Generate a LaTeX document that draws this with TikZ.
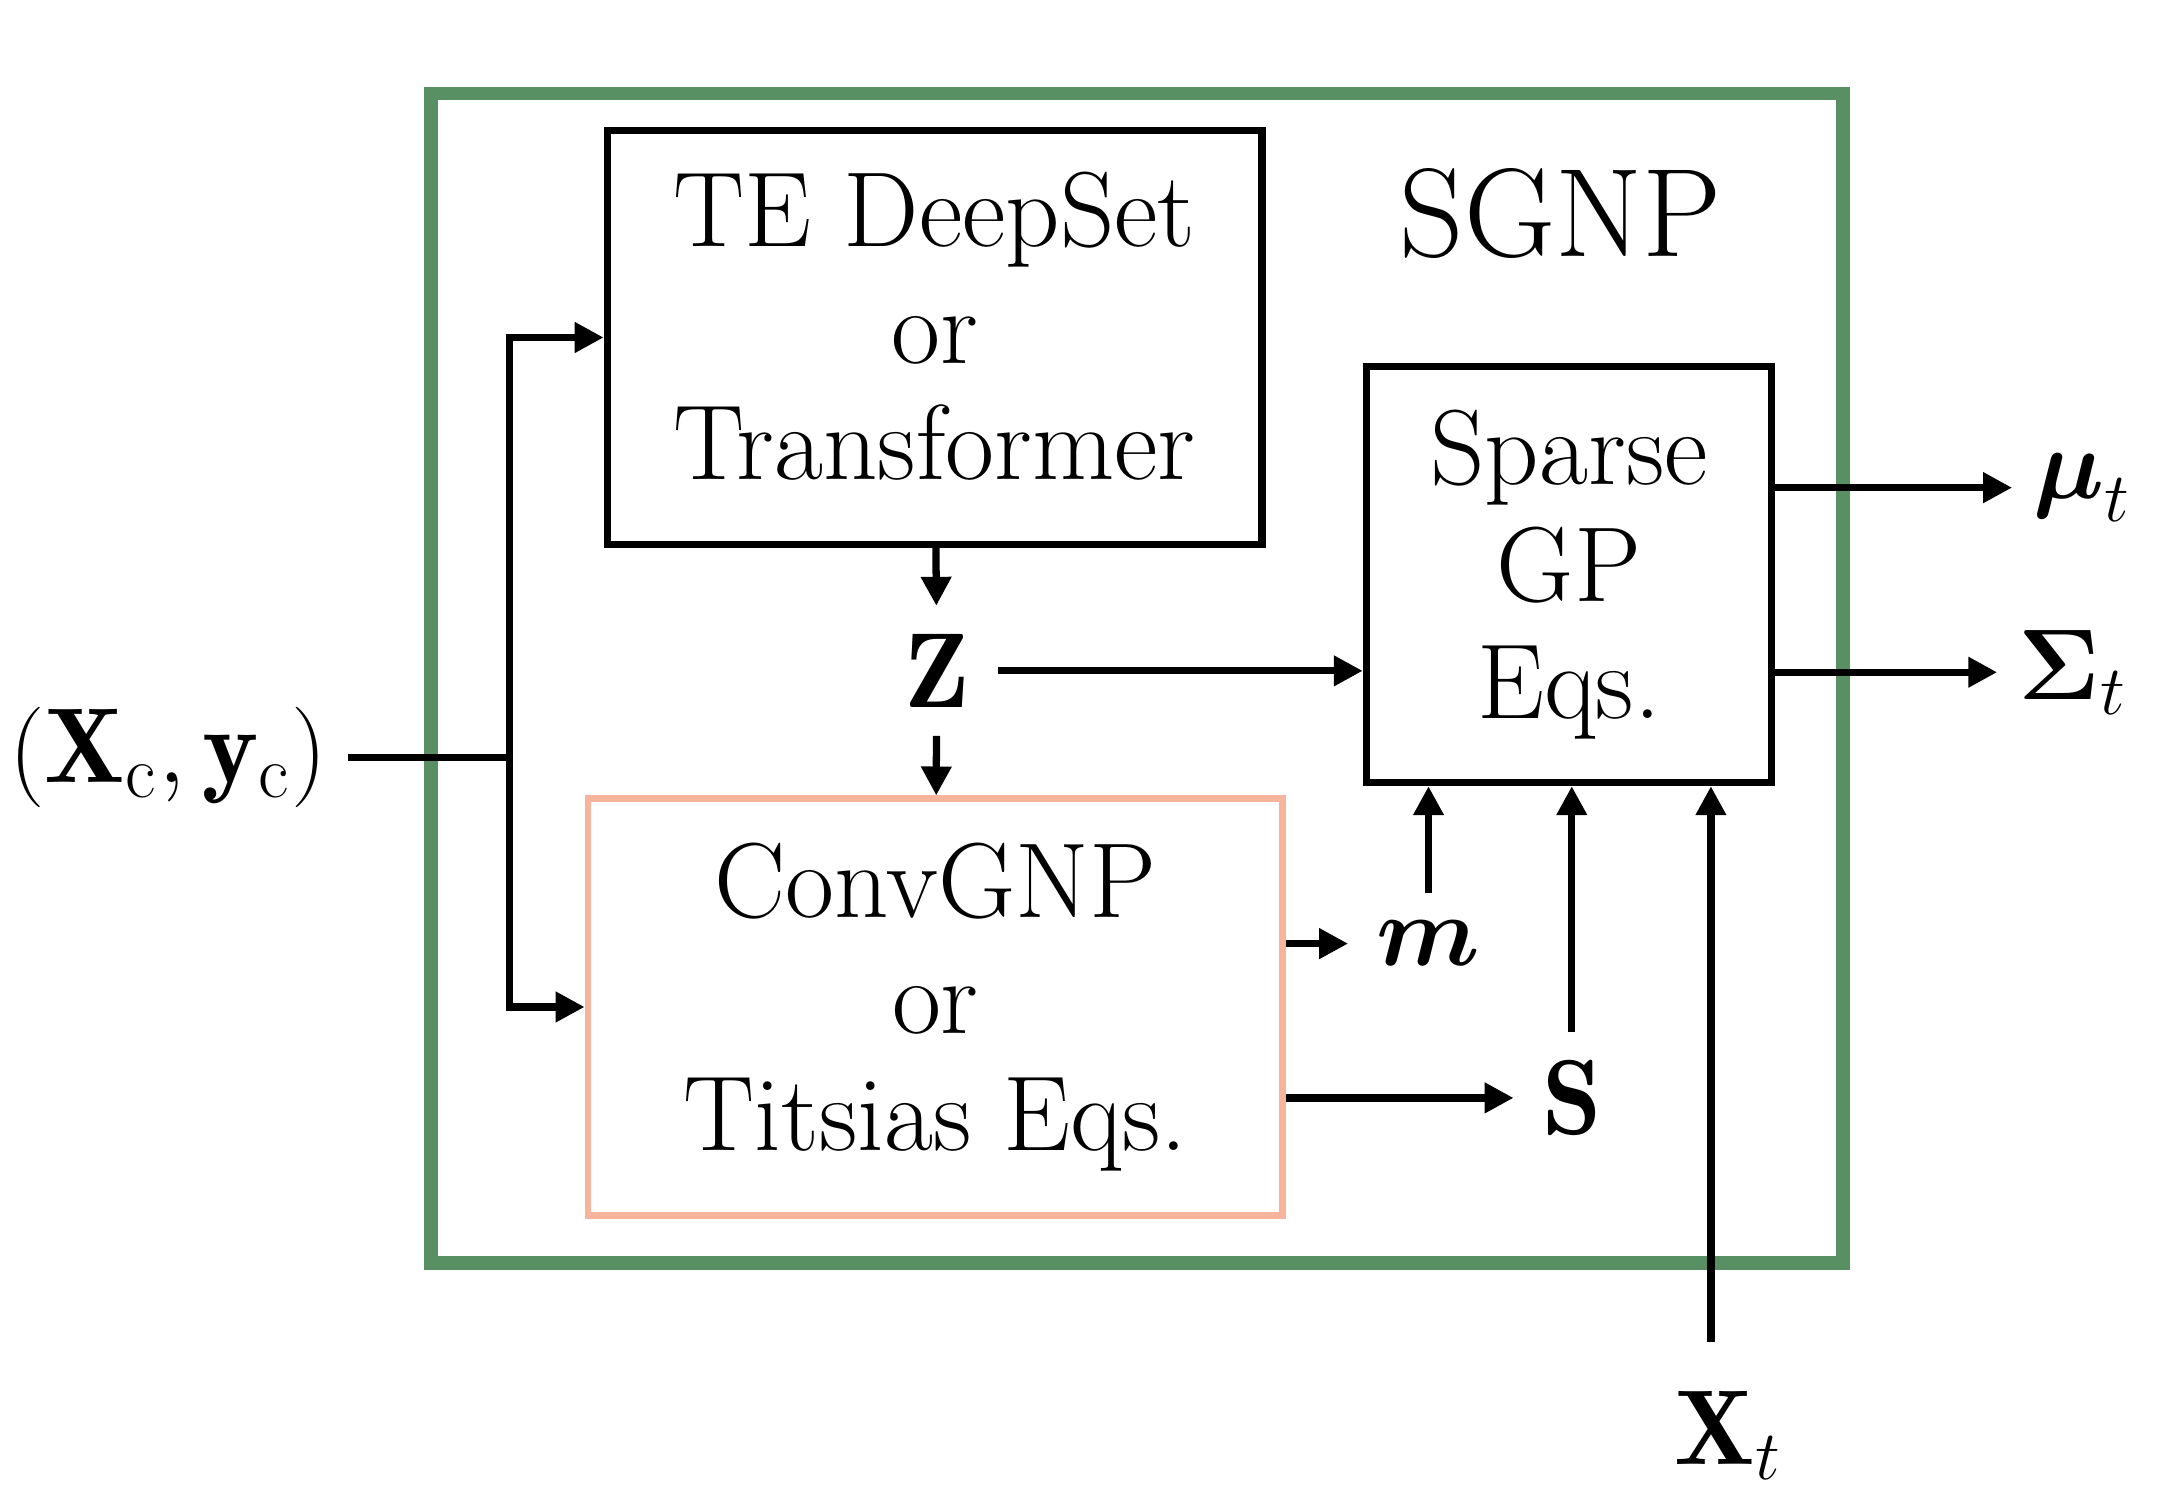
\documentclass[tikz,border=0pt]{standalone}
\usepackage{amsmath}
\usepackage{amssymb}
\usepackage{fontspec}
\usepackage{xcolor}
\usepackage{tikz}
\usetikzlibrary{arrows.meta}
\usetikzlibrary{positioning, calc}

\definecolor{sgnpgreen}{RGB}{88,144,100}
\definecolor{convpink}{RGB}{246,180,155}

\begin{document}
\begin{tikzpicture}[x=0.01cm, y=-0.01cm,
  big/.style={font=\fontsize{22}{24.1}\selectfont},
  block/.style={big, draw, line width=1.5pt, align=center, inner sep=0pt},
  lbl/.style={big, inner sep=0.2cm},
  arr/.style={line width=1.5pt, -{Triangle[length=0.21cm, width=0.21cm]}}]
  \useasboundingbox (0,0) rectangle (1568,1097);

  % outer frame
  \draw[sgnpgreen, line width=2.8pt] (313,68) rectangle (1338,917);
  \node[font=\fontsize{26}{30}\selectfont] (title) at (1133,155) {SGNP};

  % blocks
  \node[block, minimum width=4.75cm, minimum height=3cm, text depth=0.17cm] (enc) at (678.5,245)
    {TE DeepSet\\or\\Transformer};
  \node[block, minimum width=2.94cm, minimum height=3.02cm] (sgp) at (1139,417)
    {Sparse\\GP\\Eqs.};
  \node[block, draw=convpink, line width=1.4pt, minimum width=5.04cm, minimum height=3.02cm] (conv) at (679,731)
    {ConvGNP\\or\\Titsias Eqs.};

  % labels
  \node[lbl, inner sep=0.15cm] (xc) at (122,550) {$(\mathbf{X}_\mathrm{c},\mathbf{y}_\mathrm{c})$};
  \node[lbl] (Z) at (680,487) {$\mathbf{Z}$};
  \node[lbl] (m) at (1037,685) {$\boldsymbol{m}$};
  \node[lbl] (S) at (1141,797) {$\mathbf{S}$};
  \node[lbl] (Xt) at (1255,1042) {$\mathbf{X}_t$};
  \node[lbl, inner sep=0.15cm] (mu) at (1512,354) {$\boldsymbol{\mu}_t$};
  \node[lbl, inner sep=0.15cm] (Sig) at (1505,488) {$\boldsymbol{\Sigma}_t$};
  \coordinate (split) at (370,550);

  % connectors
  \draw[line width=1.5pt] (xc.east) -- (split);
  \draw[arr] (split) |- (enc.west);
  \draw[arr] (split) |- (conv.west);
  \draw[arr] (enc) -- (Z);
  \draw[arr] (Z) -- (conv);
  \draw[arr] (Z) -- (Z -| sgp.west);
  \draw[arr] (conv.east |- m) -- (m);
  \draw[arr] (conv.east |- S) -- (S);
  \draw[arr] (m) -- (m |- sgp.south);
  \draw[arr] (S) -- (S |- sgp.south);
  \draw[arr] ([xshift=-0.13cm, yshift=0.15cm]Xt.north) -- ([xshift=-0.13cm]Xt.north |- sgp.south);
  \draw[arr] (sgp.east |- mu) -- (mu);
  \draw[arr] (sgp.east |- Sig) -- (Sig);
\end{tikzpicture}
\end{document}
